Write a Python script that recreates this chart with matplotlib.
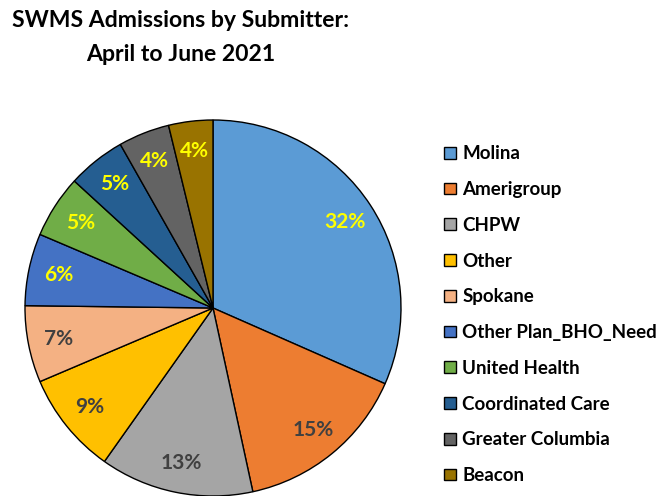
import matplotlib
matplotlib.use("Agg")
import matplotlib.pyplot as plt

plt.rcParams['font.family'] = ['Lato', 'DejaVu Sans']

submitters = ["Molina", "Amerigroup", "CHPW", "Other", "Spokane",
              "Other Plan_BHO_Need", "United Health", "Coordinated Care",
              "Greater Columbia", "Beacon"]
shares = [31.6, 15.0, 13.2, 8.8, 6.6, 6.2, 5.4, 5.0, 4.4, 3.8]
colors = ["#5B9BD5", "#ED7D31", "#A5A5A5", "#FFC000", "#F4B183",
          "#4472C4", "#70AD47", "#255E91", "#636363", "#997300"]
label_colors = ["#FFFF00", "#404040", "#404040", "#404040", "#404040",
                "#FFFF00", "#FFFF00", "#FFFF00", "#FFFF00", "#FFFF00"]

fig = plt.figure(figsize=(6.7, 4.96), dpi=100)
ax = fig.add_axes([25/670, 0/496, 376/670, 376/496])

wedges, texts, autotexts = ax.pie(
    shares, colors=colors, startangle=90, counterclock=False,
    autopct=lambda p: f"{p:.0f}%", pctdistance=0.84,
    wedgeprops=dict(edgecolor="black", linewidth=1.0),
    textprops=dict(fontsize=15, fontweight="bold"))
for t, c in zip(autotexts, label_colors):
    t.set_color(c)
ax.set_xlim(-1.0, 1.0)
ax.set_ylim(-1.0, 1.0)
ax.set_aspect("equal")

fig.text(0.27, 0.979, "SWMS Admissions by Submitter:\nApril to June 2021",
         ha="center", va="top", fontsize=16.6, fontweight="bold",
         linespacing=1.75)

leg = fig.legend(wedges, submitters, loc="upper left",
                 bbox_to_anchor=(0.652, 0.722), frameon=False,
                 prop=dict(size=13.5, weight="bold"),
                 handlelength=0.6, handleheight=0.6, handletextpad=0.35,
                 labelspacing=1.0, borderaxespad=0)

fig.savefig("out.png", dpi=100)
